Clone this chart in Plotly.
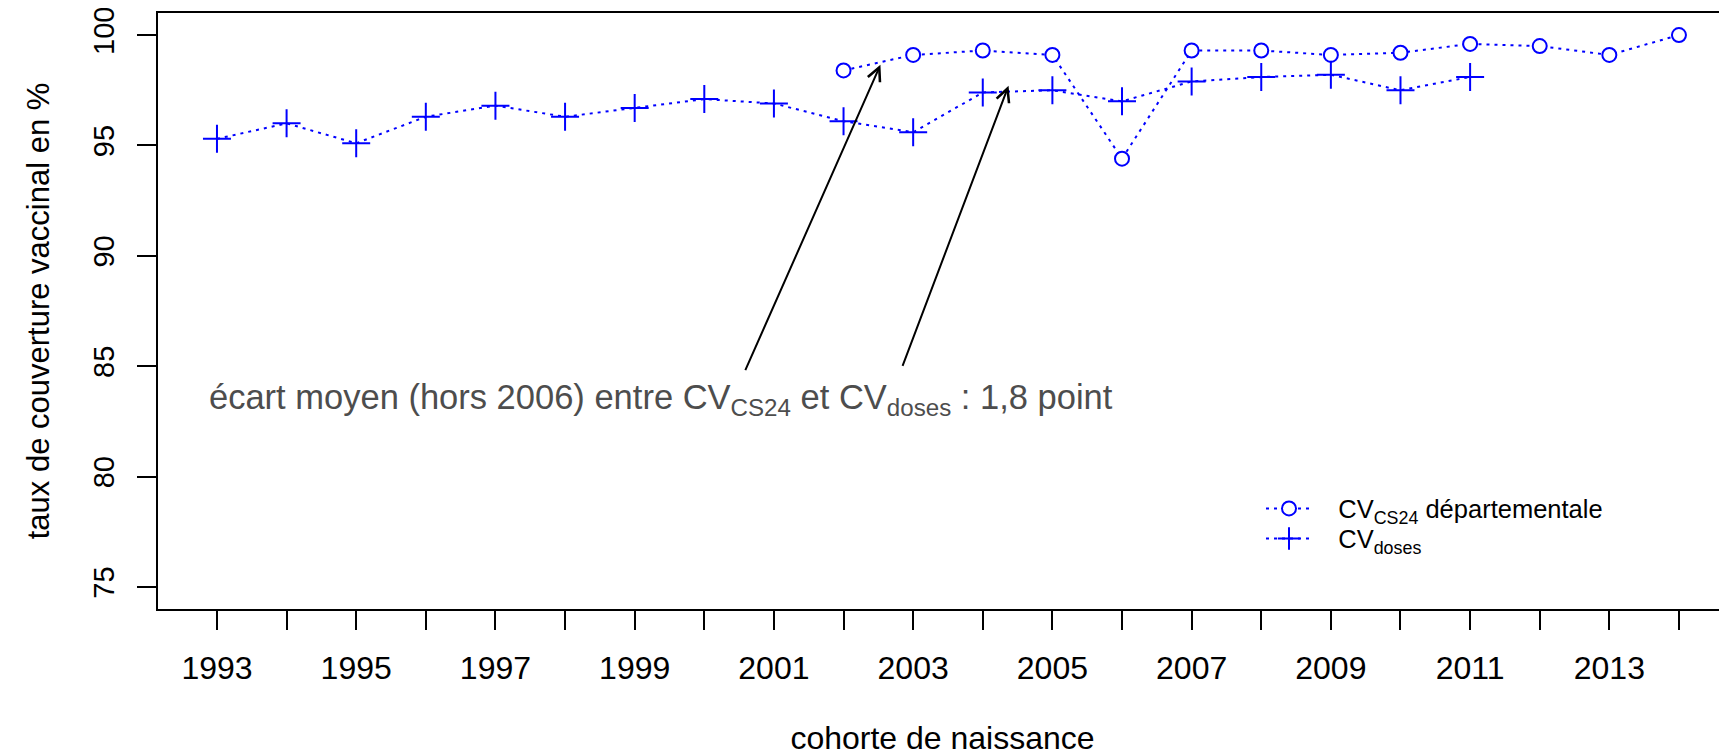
"""
Couverture vaccinale par cohorte de naissance : CV CS24 vs CV doses.
"""
import plotly.graph_objects as go

# ============================================================
# Données
# ============================================================
YEARS_CS24 = [2002, 2003, 2004, 2005, 2006, 2007, 2008, 2009, 2010, 2011, 2012, 2013, 2014]
CV_CS24 = [98.4, 99.1, 99.3, 99.1, 94.4, 99.3, 99.3, 99.1, 99.2, 99.6, 99.5, 99.1, 100.0]

YEARS_DOSES = [1993, 1994, 1995, 1996, 1997, 1998, 1999, 2000, 2001, 2002,
               2003, 2004, 2005, 2006, 2007, 2008, 2009, 2010, 2011]
CV_DOSES = [95.3, 96.0, 95.1, 96.3, 96.8, 96.3, 96.7, 97.1, 96.9, 96.1,
            95.6, 97.4, 97.5, 97.0, 97.9, 98.1, 98.2, 97.5, 98.1]

TICK_YEARS = [1993, 1994, 1995, 1996, 1997, 1998, 1999, 2000, 2001, 2002, 2003,
              2004, 2005, 2006, 2007, 2008, 2009, 2010, 2011, 2012, 2013, 2014]
TICK_LABELS = ["1993", "", "1995", "", "1997", "", "1999", "", "2001", "", "2003",
               "", "2005", "", "2007", "", "2009", "", "2011", "", "2013", ""]
Y_TICKS = [75, 80, 85, 90, 95, 100]

# flèches : (queue x, queue y) -> (pointe x, pointe y)
ARROW_TAILS = [(2000.58, 84.75), (2002.84, 84.95)]
ARROW_TIPS = [(2002.53, 98.65), (2004.37, 97.7)]

NOTE_POS = (1992.85, 83.5)
NOTE_TEXT = ("écart moyen (hors 2006) entre CV<sub>CS24</sub> "
             "et CV<sub>doses</sub> : 1,8 point")

COLORS = {
    "blue": "#0000FF",
    "axis": "#000000",
    "note": "#4D4D4D",
}
FONT = "Liberation Sans, Arial, sans-serif"
GAP = "\u00a0\u00a0\u00a0"  # espace entre le symbole et le texte de légende

# la page html garde une marge de 8 px : figure réduite d'autant
fig = go.Figure()

fig.add_trace(go.Scatter(
    x=YEARS_CS24, y=CV_CS24, mode="lines+markers",
    name=GAP + "CV<sub>CS24</sub> départementale", legend="legend",
    line=dict(color=COLORS["blue"], width=2, dash="3px,5px"),
    marker=dict(symbol="circle", size=14, color="white",
                line=dict(color=COLORS["blue"], width=2)),
))
fig.add_trace(go.Scatter(
    x=YEARS_DOSES, y=CV_DOSES, mode="lines+markers",
    name=GAP + "CV<sub>doses</sub>", legend="legend2",
    line=dict(color=COLORS["blue"], width=2, dash="3px,5px"),
    marker=dict(symbol="cross-thin-open", size=20,
                line=dict(color=COLORS["blue"], width=2)),
))

for (tx, ty), (hx, hy) in zip(ARROW_TAILS, ARROW_TIPS):
    fig.add_annotation(
        x=hx, y=hy, ax=tx, ay=ty, xref="x", yref="y", axref="x", ayref="y",
        text="", showarrow=True, arrowhead=5, arrowsize=1.3,
        arrowwidth=2, arrowcolor=COLORS["axis"],
    )

fig.add_annotation(
    x=NOTE_POS[0], y=NOTE_POS[1], xref="x", yref="y",
    text=NOTE_TEXT, showarrow=False, xanchor="left", yanchor="middle",
    font=dict(size=34.5, color=COLORS["note"], family=FONT),
)

fig.update_xaxes(
    range=[1992.153, 2014.69], tickmode="array",
    tickvals=TICK_YEARS, ticktext=TICK_LABELS, automargin=False,
    showline=True, mirror=True, linecolor=COLORS["axis"], linewidth=2,
    ticks="outside", ticklen=19, tickwidth=2, tickcolor=COLORS["axis"],
    ticklabelstandoff=11, ticklabeloverflow="allow",
    showgrid=False, zeroline=False,
    tickfont=dict(size=32, color="black", family=FONT),
    title=dict(text="cohorte de naissance", standoff=72,
               font=dict(size=32, color="black", family=FONT)),
)
fig.update_yaxes(
    range=[74, 101], tickmode="array", tickvals=Y_TICKS, tickangle=-90,
    automargin=False,
    showline=True, linecolor=COLORS["axis"], linewidth=2,
    ticks="outside", ticklen=19, tickwidth=2, tickcolor=COLORS["axis"],
    ticklabelstandoff=11, ticklabeloverflow="allow",
    showgrid=False, zeroline=False,
    tickfont=dict(size=29, color="black", family=FONT),
    title=dict(text="taux de couverture vaccinal en %", standoff=30,
               font=dict(size=31, color="black", family=FONT)),
)

legend_style = dict(
    xanchor="left", yanchor="middle", bgcolor="rgba(0,0,0,0)",
    font=dict(size=25.5, color="black", family=FONT),
    itemsizing="trace", itemwidth=46,
)
fig.update_layout(
    width=1719, height=748,
    paper_bgcolor="white", plot_bgcolor="white",
    margin=dict(l=150, r=0, t=5, b=147, autoexpand=False),
    font=dict(family=FONT, color="black"),
    showlegend=True,
    legend=dict(x=0.703, y=0.168, **legend_style),
    legend2=dict(x=0.703, y=0.1175, **legend_style),
)

fig.write_html("out.html")
